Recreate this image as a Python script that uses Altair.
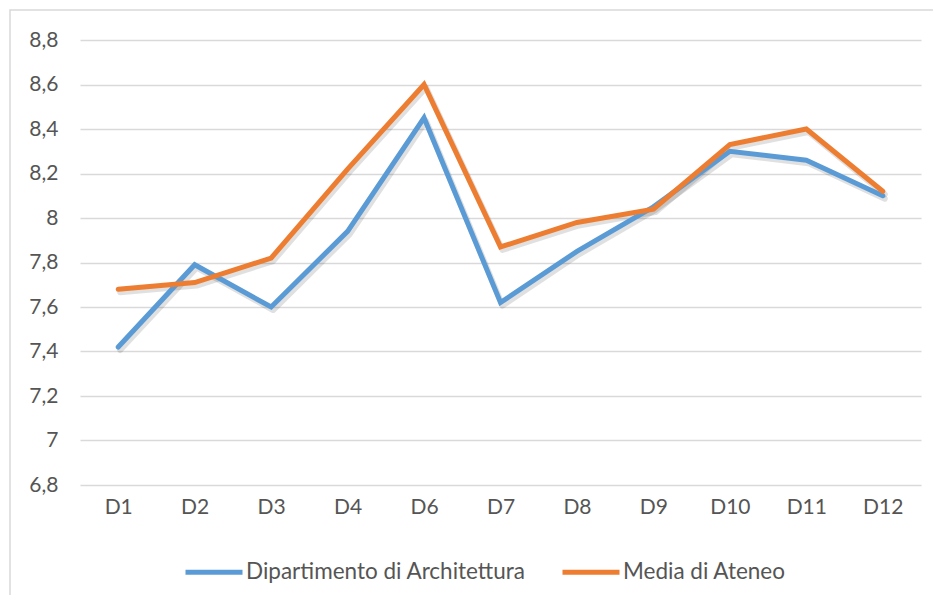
import altair as alt
import pandas as pd

categories = ["D1", "D2", "D3", "D4", "D6", "D7", "D8", "D9", "D10", "D11", "D12"]
dip_arch = [7.42, 7.79, 7.60, 7.94, 8.45, 7.62, 7.85, 8.05, 8.30, 8.26, 8.10]
media_ateneo = [7.68, 7.71, 7.82, 8.22, 8.60, 7.87, 7.98, 8.04, 8.33, 8.40, 8.12]
series_names = ["Dipartimento di Architettura", "Media di Ateneo"]
series_colors = ["#5B9BD5", "#ED7D31"]
y_ticks = [6.8, 7.0, 7.2, 7.4, 7.6, 7.8, 8.0, 8.2, 8.4, 8.6, 8.8]

rows = []
for i, c in enumerate(categories):
    rows.append({"cat": c, "serie": series_names[0], "val": dip_arch[i], "ord": 0})
    rows.append({"cat": c, "serie": series_names[1], "val": media_ateneo[i], "ord": 1})
df = pd.DataFrame(rows)

FONT = "Lato"
FS = 21
TXT = "#555555"

x_enc = alt.X("cat:N", sort=categories,
              scale=alt.Scale(type="point", padding=0.5),
              axis=alt.Axis(title=None, domain=False, ticks=False, labelAngle=0,
                            labelPadding=11, labelFontSize=FS, labelColor=TXT,
                            labelFont=FONT, grid=False))
y_enc = alt.Y("val:Q", scale=alt.Scale(domain=[6.8, 8.8], nice=False, zero=False),
              axis=alt.Axis(title=None, domain=False, ticks=False, values=y_ticks,
                            labelExpr="replace(format(datum.value, '~f'), '.', ',')",
                            labelPadding=22, labelFontSize=FS, labelColor=TXT,
                            labelFont=FONT, grid=True, gridColor="#D9D9D9",
                            gridWidth=1.5))

frame = alt.Chart(pd.DataFrame({"a": [0]})).mark_rect(
    fill=None, stroke="#D9D9D9", strokeWidth=1.5
).encode(x=alt.value(-70), x2=alt.value(880), y=alt.value(-30), y2=alt.value(620))

shadow = alt.Chart(df).mark_line(
    color="black", opacity=0.12, strokeWidth=6, xOffset=2, yOffset=3,
    strokeCap="round", strokeJoin="round"
).encode(x=x_enc, y=y_enc, detail="serie:N")

lines = alt.Chart(df).mark_line(
    strokeWidth=5, strokeCap="round", strokeJoin="miter"
).encode(
    x=x_enc, y=y_enc,
    color=alt.Color("serie:N", sort=series_names,
                    scale=alt.Scale(domain=series_names, range=series_colors),
                    legend=alt.Legend(title=None, orient="none", legendX=103, legendY=501,
                                      direction="horizontal", symbolType="stroke",
                                      symbolSize=3249, symbolStrokeWidth=5,
                                      labelFontSize=22.5, labelColor=TXT,
                                      labelFont=FONT, labelOffset=1, columnPadding=26,
                                      labelLimit=500)),
    order=alt.Order("ord:Q"),
)

chart = alt.layer(frame, shadow, lines).properties(
    width=841, height=445,
    autosize=alt.AutoSizeParams(type="none"),
    padding={"left": 72, "top": 32, "right": 12, "bottom": 110},
).configure_view(stroke=None)

chart.save("out.html", embed_options={"renderer": "svg", "actions": False})
